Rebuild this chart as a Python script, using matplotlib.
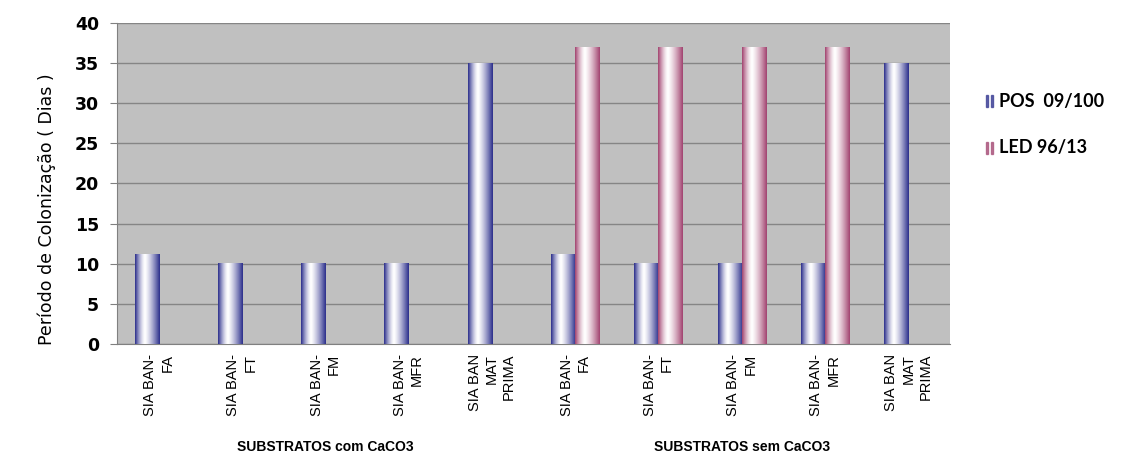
import numpy as np
import matplotlib.pyplot as plt
from matplotlib.patches import Rectangle

# colonisation period (days) per substrate, two strains
categories = [
    "SIA BAN-\nFA", "SIA BAN-\nFT", "SIA BAN-\nFM", "SIA BAN-\nMFR", "SIA BAN\nMAT\nPRIMA",
    "SIA BAN-\nFA", "SIA BAN-\nFT", "SIA BAN-\nFM", "SIA BAN-\nMFR", "SIA BAN\nMAT\nPRIMA",
]
groups = ["SUBSTRATOS com CaCO3", "SUBSTRATOS sem CaCO3"]
series_names = ["POS  09/100", "LED 96/13"]
pos_values = [11.2, 10, 10, 10, 35, 11.2, 10, 10, 10, 35]
led_values = [0, 0, 0, 0, 0, 37, 37, 37, 37, 0]
yticks = [0, 5, 10, 15, 20, 25, 30, 35, 40]

BLUE = np.array([0x2c, 0x2f, 0x8c]) / 255
PINK = np.array([0xa2, 0x44, 0x70]) / 255


def gradient(edge, n=64):
    # dark edges fading to white a little left of centre
    t = np.linspace(0, 1, n)
    w = np.where(t < 0.4, ((0.4 - t) / 0.4) ** 1.5, ((t - 0.4) / 0.6) ** 1.3)
    w = np.clip(w, 0, 1)[:, None]
    rgb = (1 - w) * np.ones(3) + w * edge
    return rgb[None, :, :]


fig = plt.figure(figsize=(11.21, 4.55), dpi=100)
ax = fig.add_axes([0.1044, 0.244, 0.7431, 0.7055])
ax.set_facecolor("#c0c0c0")

x = np.arange(len(categories))
width = 0.29
bars_pos = ax.bar(x - width / 2, pos_values, width, color="none", zorder=3)
bars_led = ax.bar(x + width / 2, led_values, width, color="none", zorder=3)

for bars, edge in [(bars_pos, BLUE), (bars_led, PINK)]:
    img = gradient(edge)
    for p in bars:
        h = p.get_height()
        if h <= 0:
            continue
        x0 = p.get_x()
        ax.imshow(img, extent=[x0, x0 + p.get_width(), 0, h],
                  aspect="auto", zorder=3, interpolation="bilinear")

ax.set_xlim(-0.5, len(categories) - 0.5)
ax.set_ylim(0, 40)
ax.set_yticks(yticks)
ax.set_yticklabels([str(v) for v in yticks], fontsize=12.5, fontweight="bold")
ax.yaxis.grid(True, color="#858585", linewidth=1)
ax.set_axisbelow(True)
ax.tick_params(axis="y", length=5, color="#808080", pad=8)

ax.set_xticks(x)
ax.set_xticklabels(categories, rotation=90, va="top", ha="center",
                   multialignment="right", fontsize=10.5, family="Liberation Sans",
                   linespacing=1.3)
ax.tick_params(axis="x", length=0, pad=7)

for side in ["top", "right"]:
    ax.spines[side].set_visible(False)
for side in ["left", "bottom"]:
    ax.spines[side].set_color("#808080")

# group captions under each half
for i, g in enumerate(groups):
    ax.text(i * 5 + 2, -0.32, g, transform=ax.get_xaxis_transform(), ha="center",
            va="center", fontsize=10, family="Liberation Sans", fontweight="bold")

fig.text(0.042, 0.541, "Período de Colonização ( Dias )", rotation=90,
         ha="center", va="center", fontsize=12.5, family="DejaVu Sans")

# legend drawn as small striped markers
for name, edge, yy in [(series_names[0], BLUE, 0.778), (series_names[1], PINK, 0.675)]:
    for dx in (0.0, 0.0045):
        fig.add_artist(Rectangle((0.8795 + dx, yy - 0.014), 0.0022, 0.028,
                                 transform=fig.transFigure, color=edge, alpha=0.7))
    fig.text(0.8915, yy, name, ha="left", va="center", fontsize=13,
             fontweight="bold", family="Lato")

fig.savefig("out.png", dpi=100)
